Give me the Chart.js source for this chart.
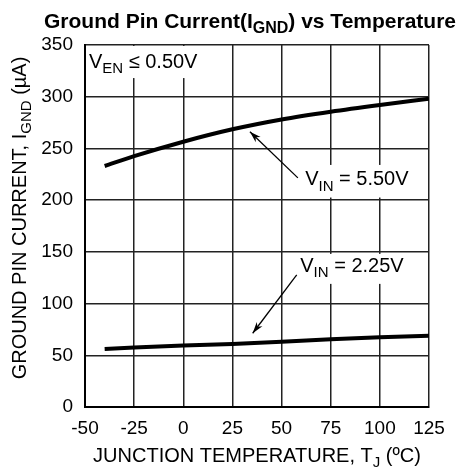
<!DOCTYPE html>
<html>
<head>
<meta charset="utf-8">
<script src="https://cdn.jsdelivr.net/npm/chart.js@4/dist/chart.umd.min.js"></script>
<style>
  html, body { margin: 0; padding: 0; background: #fff; }
  #wrap { width: 466px; height: 468px; }
</style>
</head>
<body>
<div id="wrap"><canvas id="chart" width="466" height="468"></canvas></div>
<script>
// Temperatura (°C) y corriente de tierra (µA)
var temps = [-40, -25, 0, 25, 50, 75, 100, 125];
var vin550 = [233, 242.5, 256.5, 268.5, 278, 285.5, 292, 298];
var vin225 = [56, 57.5, 59.5, 61, 63, 65.5, 67.5, 69];
var xTicks = [-50, -25, 0, 25, 50, 75, 100, 125];
var yTicks = [0, 50, 100, 150, 200, 250, 300, 350];

var FONT = "'Liberation Sans', Arial, sans-serif";

// Etiquetas dentro del área (en unidades de datos)
var labels = [
    { x: -48, y: 333.5, parts: [["V"], ["EN", 1], [" \u2264 0.50V"]], box: [-50, 350, 23, 319] },
    { x: 62, y: 219.5, parts: [["V"], ["IN", 1], [" = 5.50V"]], box: [60.5, 235, 117, 203.5] },
    { x: 59.5, y: 135.5, parts: [["V"], ["IN", 1], [" = 2.25V"]], box: [58, 149, 114, 120] }
];
var arrows = [
    { from: [58.3, 221.5], to: [33.9, 266.2] },
    { from: [57.7, 127.7], to: [35.3, 71.3] }
];

function drawParts(ctx, parts, x, y, size, align) {
    var subSize = Math.round(size * 0.74);
    var total = 0;
    parts.forEach(function (p) {
        ctx.font = (p[2] || "") + (p[1] ? subSize : size) + "px " + FONT;
        total += ctx.measureText(p[0]).width;
    });
    var cx = align === "center" ? x - total / 2 : x;
    ctx.textAlign = "left";
    ctx.textBaseline = "middle";
    parts.forEach(function (p) {
        ctx.font = (p[2] || "") + (p[1] ? subSize : size) + "px " + FONT;
        ctx.fillText(p[0], cx, p[1] ? y + size * 0.32 : y);
        cx += ctx.measureText(p[0]).width;
    });
}

var textPlugin = {
    id: "textos",
    beforeDatasetsDraw: function (chart) {
        var ctx = chart.ctx, xs = chart.scales.x, ys = chart.scales.y;
        ctx.save();
        ctx.fillStyle = "#fff";
        labels.forEach(function (l) {
            var x1 = xs.getPixelForValue(l.box[0]), y1 = ys.getPixelForValue(l.box[1]);
            var x2 = xs.getPixelForValue(l.box[2]), y2 = ys.getPixelForValue(l.box[3]);
            ctx.fillRect(x1 + 1, y1 + 1, x2 - x1, y2 - y1);
        });
        ctx.restore();
    },
    afterDraw: function (chart) {
        var ctx = chart.ctx, xs = chart.scales.x, ys = chart.scales.y, area = chart.chartArea;
        ctx.save();
        ctx.fillStyle = "#000";
        labels.forEach(function (l) {
            drawParts(ctx, l.parts, xs.getPixelForValue(l.x), ys.getPixelForValue(l.y), 20, "left");
        });
        // flechas
        ctx.strokeStyle = "#000";
        ctx.lineWidth = 1.3;
        arrows.forEach(function (a) {
            var x1 = xs.getPixelForValue(a.from[0]), y1 = ys.getPixelForValue(a.from[1]);
            var x2 = xs.getPixelForValue(a.to[0]), y2 = ys.getPixelForValue(a.to[1]);
            var ang = Math.atan2(y2 - y1, x2 - x1);
            ctx.beginPath();
            ctx.moveTo(x1, y1);
            ctx.lineTo(x2, y2);
            ctx.stroke();
            ctx.beginPath();
            ctx.moveTo(x2, y2);
            ctx.lineTo(x2 - 12 * Math.cos(ang - 0.3), y2 - 12 * Math.sin(ang - 0.3));
            ctx.lineTo(x2 - 8 * Math.cos(ang), y2 - 8 * Math.sin(ang));
            ctx.lineTo(x2 - 12 * Math.cos(ang + 0.3), y2 - 12 * Math.sin(ang + 0.3));
            ctx.closePath();
            ctx.fill();
        });
        // titulo
        var midX = (area.left + area.right) / 2;
        drawParts(ctx, [["Ground Pin Current(I", 0, "bold "], ["GND", 1, "bold "], [") vs Temperature", 0, "bold "]],
            250, 22, 21, "center");
        // titulo eje x
        drawParts(ctx, [["JUNCTION TEMPERATURE, T"], ["J", 1], [" (\u00baC)"]], midX, 456, 20, "center");
        // titulo eje y
        ctx.translate(20, (area.top + area.bottom) / 2 - 8);
        ctx.rotate(-Math.PI / 2);
        drawParts(ctx, [["GROUND PIN CURRENT, I"], ["GND", 1], [" (\u00b5A)"]], 0, 0, 20, "center");
        ctx.restore();
    }
};

var ctx = document.getElementById("chart").getContext("2d");
var chart = new Chart(ctx, {
    type: "line",
    data: {
        datasets: [
            {
                label: "VIN = 5.50V",
                data: temps.map(function (t, i) { return { x: t, y: vin550[i] }; }),
                borderColor: "#000",
                borderWidth: 4,
                pointRadius: 0,
                cubicInterpolationMode: "monotone"
            },
            {
                label: "VIN = 2.25V",
                data: temps.map(function (t, i) { return { x: t, y: vin225[i] }; }),
                borderColor: "#000",
                borderWidth: 4,
                pointRadius: 0,
                cubicInterpolationMode: "monotone"
            }
        ]
    },
    options: {
        responsive: false,
        animation: false,
        layout: { padding: { left: 0, right: 37, top: 45, bottom: 0 } },
        plugins: { legend: { display: false }, tooltip: { enabled: false } },
        scales: {
            x: {
                type: "linear",
                min: -50,
                max: 125,
                afterBuildTicks: function (s) { s.ticks = xTicks.map(function (v) { return { value: v }; }); },
                afterFit: function (s) { s.height = 61; },
                grid: { color: "#222", lineWidth: 1.5, drawTicks: false },
                border: { color: "#000", width: 2 },
                ticks: { color: "#000", font: { family: FONT, size: 19 }, padding: 10, maxRotation: 0 }
            },
            y: {
                min: 0,
                max: 350,
                afterBuildTicks: function (s) { s.ticks = yTicks.map(function (v) { return { value: v }; }); },
                afterFit: function (s) { s.width = 85; },
                grid: { color: "#222", lineWidth: 1.5, drawTicks: false },
                border: { color: "#000", width: 2 },
                ticks: { color: "#000", font: { family: FONT, size: 19 }, padding: 12 }
            }
        }
    },
    plugins: [textPlugin]
});
</script>
</body>
</html>
